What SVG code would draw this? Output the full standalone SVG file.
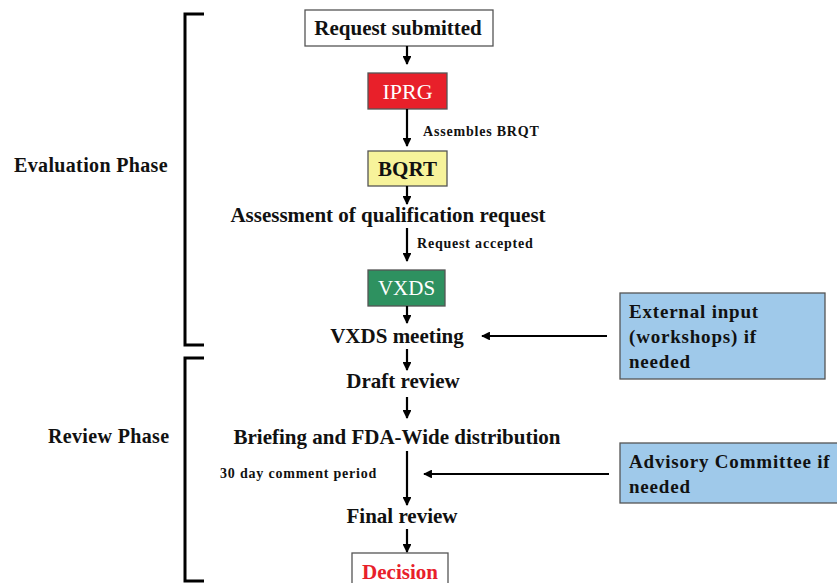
<svg xmlns="http://www.w3.org/2000/svg" width="837" height="583" viewBox="0 0 837 583">
<defs>
<marker id="ah" viewBox="0 0 10 10" refX="9" refY="5" markerWidth="4" markerHeight="4" orient="auto" markerUnits="strokeWidth">
<path d="M0,0 L10,5 L0,10 z" fill="#000"/>
</marker>
<style>
text{font-family:"Liberation Serif","Times New Roman",serif;font-weight:bold;fill:#111}
.big{font-size:21px}
.lbl{font-size:14px;letter-spacing:0.8px}
.ph{font-size:20px;letter-spacing:0.35px}
.bx{font-size:19px;letter-spacing:0.8px}
.conn line{stroke:#000;stroke-width:2.2;marker-end:url(#ah)}
.br{fill:none;stroke:#000;stroke-width:3}
.box{stroke:#555;stroke-width:1.3}
</style>
</defs>
<rect width="837" height="583" fill="#fff"/>
<g id="brackets">
<path class="br" d="M204,14 H185 V345 H204"/>
<path class="br" d="M204,358 H185 V581 H204"/>
</g>
<g id="evaluation-phase"><text class="ph" x="14" y="172">Evaluation Phase</text></g>
<g id="review-phase"><text class="ph" x="48" y="443">Review Phase</text></g>
<g id="request-submitted">
<rect class="box" x="305" y="10" width="188" height="36" fill="#fff"/>
<text class="big" x="398" y="35" text-anchor="middle">Request submitted</text>
</g>
<g id="iprg">
<rect class="box" x="368" y="73" width="79" height="36" fill="#e8202a"/>
<text x="407.500" y="99" text-anchor="middle" style="fill:#fff;font-weight:normal;font-size:22px">IPRG</text>
</g>
<g id="bqrt">
<rect class="box" x="368" y="151" width="79" height="35" fill="#f7f39b"/>
<text class="big" x="407.500" y="176" text-anchor="middle">BQRT</text>
</g>
<g id="assessment"><text class="big" x="388" y="222" text-anchor="middle">Assessment of qualification request</text></g>
<g id="vxds">
<rect class="box" x="368" y="270" width="77" height="36" fill="#2e9160"/>
<text x="406.500" y="295" text-anchor="middle" style="fill:#fff;font-weight:normal;font-size:21px">VXDS</text>
</g>
<g id="vxds-meeting"><text class="big" x="397" y="343" text-anchor="middle">VXDS meeting</text></g>
<g id="draft-review"><text class="big" x="403" y="388" text-anchor="middle">Draft review</text></g>
<g id="briefing"><text class="big" x="397" y="444" text-anchor="middle">Briefing and FDA-Wide distribution</text></g>
<g id="final-review"><text class="big" x="402" y="523" text-anchor="middle">Final review</text></g>
<g id="decision">
<rect class="box" x="352" y="553" width="96" height="40" fill="#fff"/>
<text class="big" x="400" y="579" text-anchor="middle" style="fill:#e8202a">Decision</text>
</g>
<g id="external-input">
<rect class="box" x="620" y="293" width="205" height="86" fill="#9fc9ea"/>
<text class="bx" x="629" y="318">External input</text>
<text class="bx" x="629" y="343">(workshops) if</text>
<text class="bx" x="629" y="368">needed</text>
</g>
<g id="advisory-committee">
<rect class="box" x="620" y="443" width="230" height="60" fill="#9fc9ea"/>
<text class="bx" x="629" y="468">Advisory Committee if</text>
<text class="bx" x="629" y="493">needed</text>
</g>
<g id="connectors" class="conn">
<line x1="407" y1="46" x2="407" y2="64"/>
<line x1="407" y1="109" x2="407" y2="146"/>
<line x1="407" y1="186" x2="407" y2="204"/>
<line x1="407" y1="228" x2="407" y2="261"/>
<line x1="407" y1="306" x2="407" y2="323"/>
<line x1="607" y1="336" x2="482" y2="336"/>
<line x1="407" y1="349" x2="407" y2="370"/>
<line x1="407" y1="397" x2="407" y2="418"/>
<line x1="407" y1="451" x2="407" y2="505"/>
<line x1="609" y1="474" x2="424" y2="474"/>
<line x1="407" y1="529" x2="407" y2="552"/>
</g>
<g id="labels">
<text class="lbl" x="423" y="136">Assembles BRQT</text>
<text class="lbl" x="417" y="248">Request accepted</text>
<text class="lbl" x="220" y="478">30 day comment period</text>
</g>
</svg>
